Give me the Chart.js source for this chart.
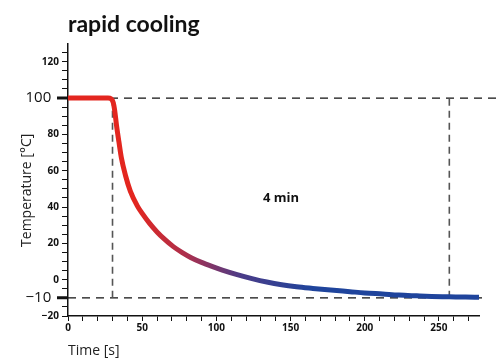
<!DOCTYPE html>
<html>
<head>
<meta charset="utf-8">
<script src="https://cdn.jsdelivr.net/npm/chart.js@4"></script>
<style>
  html, body { margin: 0; padding: 0; background: #fff; }
  #wrap { width: 496px; height: 363px; }
</style>
</head>
<body>
<div id="wrap"><canvas id="chart" width="496" height="363"></canvas></div>
<script>
'use strict';

// temperature curve
let times = [0, 10, 20, 27, 29, 30.5, 31.5, 32.7, 34.3, 36, 38.7, 42, 46.8, 50, 55, 60, 65, 71, 77, 83, 90, 97, 104, 114, 124, 134, 144, 154, 165, 177, 190, 200, 212, 223, 235, 245, 257, 268, 277];
let temps = [100, 100, 100, 100, 99.6, 97.5, 93, 85, 76, 67, 57.5, 48.8, 40.5, 36.5, 31, 26.3, 22.3, 18.2, 14.9, 12.1, 9.5, 7.3, 5.3, 2.8, 0.6, -1.3, -2.8, -3.9, -4.8, -5.7, -6.6, -7.3, -7.9, -8.5, -8.9, -9.2, -9.4, -9.6, -9.7];

// tick labels
let xLabels = [0, 50, 100, 150, 200, 250];
let yLabels = [-20, -10, 0, 20, 40, 60, 80, 100, 120];
let bigLabels = [100, -10];

// reference lines
let refTemps = [100, -10];
let refTimes = [30, 257];
let spanText = '4 min';

let canvasElem = document.getElementById('chart');

let points = [];
for (let i = 0; i < times.length; i++) {
  points.push({ x: times[i], y: temps[i] });
}

function minorTicks(from, to, step) {
  let out = [];
  for (let v = from; v <= to; v += step) out.push({ value: v });
  return out;
}

const refLines = {
  id: 'refLines',
  beforeDatasetsDraw(chart) {
    let c = chart.ctx;
    let xs = chart.scales.x, ys = chart.scales.y;
    let area = chart.chartArea;
    c.save();
    // horizontal lines
    c.strokeStyle = '#111';
    c.lineWidth = 1.3;
    c.setLineDash([8, 6]);
    let yTop = ys.getPixelForValue(refTemps[0]);
    let yBot = ys.getPixelForValue(refTemps[1]);
    c.beginPath();
    c.moveTo(area.left, yTop);
    c.lineTo(chart.width, yTop);
    c.moveTo(area.left, yBot);
    c.lineTo(area.right + 6, yBot);
    c.stroke();
    // vertical lines
    c.strokeStyle = '#555';
    c.lineWidth = 1.6;
    c.setLineDash([7, 5]);
    for (let t of refTimes) {
      let px = xs.getPixelForValue(t);
      c.beginPath();
      c.moveTo(px, yBot);
      c.lineTo(px, yTop);
      c.stroke();
    }
    c.setLineDash([]);
    // long thick ticks at the two marked temperatures
    c.strokeStyle = '#111';
    c.lineWidth = 3;
    c.beginPath();
    for (let v of bigLabels) {
      let py = ys.getPixelForValue(v);
      c.moveTo(area.left - 11, py);
      c.lineTo(area.left, py);
    }
    c.stroke();
    // span label
    c.fillStyle = '#111';
    c.font = 'bold 13px "Open Sans"';
    c.textAlign = 'center';
    c.textBaseline = 'middle';
    c.fillText(spanText, xs.getPixelForValue((refTimes[0] + refTimes[1]) / 2), ys.getPixelForValue(45));
    c.restore();
  }
};

const config = {
  type: 'line',
  data: {
    datasets: [{
      data: points,
      borderWidth: 5,
      borderCapStyle: 'round',
      borderJoinStyle: 'round',
      cubicInterpolationMode: 'monotone',
      pointRadius: 0,
      borderColor: function (ctx) {
        let chart = ctx.chart;
        if (!chart.chartArea) return '#e3261f';
        let xs = chart.scales.x;
        let g = chart.ctx.createLinearGradient(xs.getPixelForValue(45), 0, xs.getPixelForValue(165), 0);
        g.addColorStop(0, '#e3261f');
        g.addColorStop(0.3, '#a9304f');
        g.addColorStop(0.6, '#4a3c88');
        g.addColorStop(1, '#1f449c');
        return g;
      }
    }]
  },
  options: {
    responsive: false,
    animation: false,
    layout: { padding: { left: 8, right: 17, top: 11, bottom: 4 } },
    plugins: {
      legend: { display: false },
      tooltip: { enabled: false },
      title: {
        display: true,
        text: 'rapid cooling',
        align: 'start',
        fullSize: false,
        color: '#111',
        font: { family: 'Lato', size: 23, weight: 'bold' },
        padding: { top: 0, bottom: 5 }
      }
    },
    scales: {
      x: {
        type: 'linear',
        min: 0,
        max: 277,
        afterBuildTicks: function (scale) { scale.ticks = minorTicks(0, 270, 10); },
        afterFit: function (scale) { scale.height = 43; },
        border: { color: '#111', width: 1.5 },
        grid: { drawOnChartArea: false, tickLength: 5, tickColor: '#111', tickWidth: 1 },
        ticks: {
          autoSkip: false,
          maxRotation: 0,
          padding: 1,
          color: '#111',
          font: { family: 'Open Sans', size: 10, weight: 'bold' },
          callback: function (v) { return xLabels.includes(v) ? String(v) : ''; }
        },
        title: {
          display: true,
          text: 'Time [s]',
          align: 'start',
          color: '#222',
          font: { family: 'Open Sans', size: 14 },
          padding: { top: 4, bottom: 0 }
        }
      },
      y: {
        min: -20,
        max: 130,
        afterBuildTicks: function (scale) { scale.ticks = minorTicks(-20, 125, 5); },
        afterFit: function (scale) { scale.width = 60; },
        border: { color: '#111', width: 1.5 },
        grid: {
          drawOnChartArea: false,
          tickLength: 6,
          tickColor: '#111',
          tickWidth: 1
        },
        ticks: {
          autoSkip: false,
          padding: 3,
          color: '#111',
          font: function (ctx) {
            if (ctx.tick && bigLabels.includes(ctx.tick.value)) return { family: 'Open Sans', size: 15, weight: 'normal' };
            return { family: 'Open Sans', size: 10, weight: 'bold' };
          },
          callback: function (v) {
            if (!yLabels.includes(v)) return '';
            let s = v < 0 ? '\u2212' + Math.abs(v) : String(v);
            return bigLabels.includes(v) ? s + '  ' : s;
          }
        },
        title: {
          display: true,
          text: 'Temperature [°C]\u2003\u2002',
          color: '#222',
          font: { family: 'Open Sans', size: 14 },
          padding: { top: 11, bottom: 0 }
        }
      }
    }
  },
  plugins: [refLines]
};

new Chart(canvasElem, config);
</script>
</body>
</html>
